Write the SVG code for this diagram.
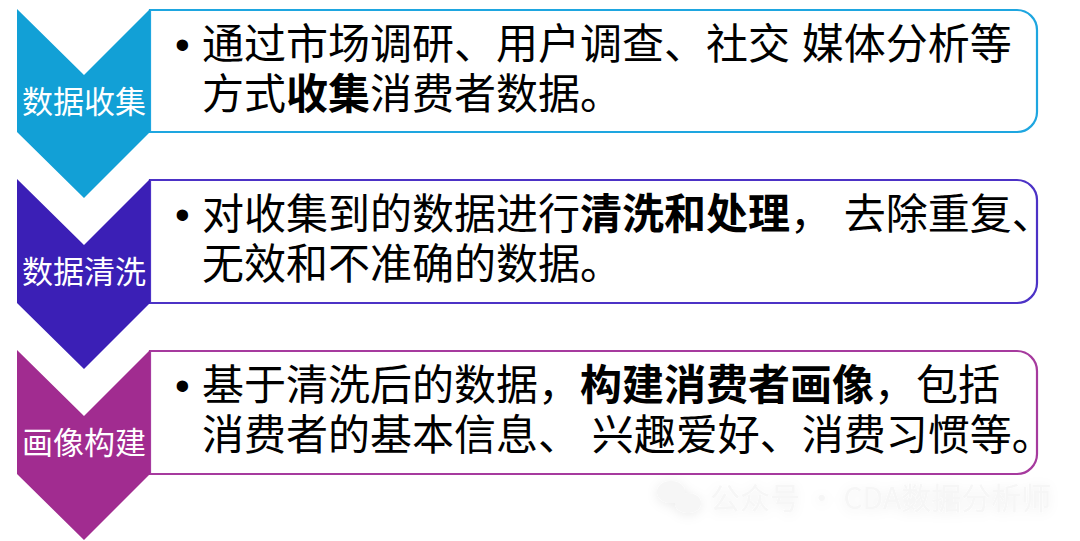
<svg xmlns="http://www.w3.org/2000/svg" width="1080" height="541" viewBox="0 0 1080 541">
<defs>
<style>
.box{fill:#ffffff;stroke-width:2.2}
.lbl{font-family:"Noto Sans CJK SC","Noto Sans",sans-serif;font-size:31px;fill:#ffffff;text-anchor:middle}
.body{font-family:"Liberation Sans","Noto Sans CJK SC",sans-serif;font-size:42px;fill:#000000}
.b{font-weight:700}
.wm{font-family:"Noto Sans CJK SC","Noto Sans",sans-serif;font-size:30px;fill:#f6f6f6}
</style>
<filter id="glow" x="-20%" y="-80%" width="140%" height="260%">
<feDropShadow dx="0" dy="2" stdDeviation="6" flood-color="#000000" flood-opacity="0.08"/>
</filter>
</defs>
<rect width="1080" height="541" fill="#ffffff"/>

<g id="node-collect">
<path class="box" stroke="#1ea6e0" d="M150,10 H1017 A20,20 0 0 1 1037,30 V112 A20,20 0 0 1 1017,132 H150 Z"/>
<path fill="#12a0d6" d="M17,9 L84,75 L150,9 L150,132 L84,198 L17,132 Z"/>
<text class="lbl" x="84" y="113">数据收集</text>
<text class="body" x="175" y="59">•</text>
<text class="body" x="202" y="59">通过市场调研、用户调查、社交 媒体分析等</text>
<text class="body" x="202" y="109">方式<tspan class="b">收集</tspan>消费者数据。</text>
</g>

<g id="node-clean">
<path class="box" stroke="#4c32c6" d="M150,180 H1017 A20,20 0 0 1 1037,200 V283 A20,20 0 0 1 1017,303 H150 Z"/>
<path fill="#3b1fb6" d="M17,179 L84,245 L150,179 L150,303 L84,369 L17,303 Z"/>
<text class="lbl" x="84" y="283">数据清洗</text>
<text class="body" x="175" y="229">•</text>
<text class="body" x="202" y="229">对收集到的数据进行<tspan class="b">清洗和处理</tspan>， 去除重复、</text>
<text class="body" x="202" y="279">无效和不准确的数据。</text>
</g>

<g id="node-build">
<path class="box" stroke="#a63a9e" d="M150,351 H1017 A20,20 0 0 1 1037,371 V454 A20,20 0 0 1 1017,474 H150 Z"/>
<path fill="#a12c90" d="M17,350 L84,416 L150,350 L150,474 L84,540 L17,474 Z"/>
<text class="lbl" x="84" y="454">画像构建</text>
<text class="body" x="175" y="400">•</text>
<text class="body" x="202" y="400">基于清洗后的数据，<tspan class="b">构建消费者画像</tspan>，包括</text>
<text class="body" x="202" y="450">消费者的基本信息、 兴趣爱好、消费习惯等。</text>
</g>

<g id="connectors"></g>

<g id="watermark" filter="url(#glow)">
<ellipse cx="671" cy="492" rx="14" ry="11" fill="#f6f6f6"/>
<ellipse cx="688" cy="503" rx="13" ry="10" fill="#f6f6f6"/>
<text class="wm" x="710" y="509">公众号 · CDA数据分析师</text>
</g>
</svg>
